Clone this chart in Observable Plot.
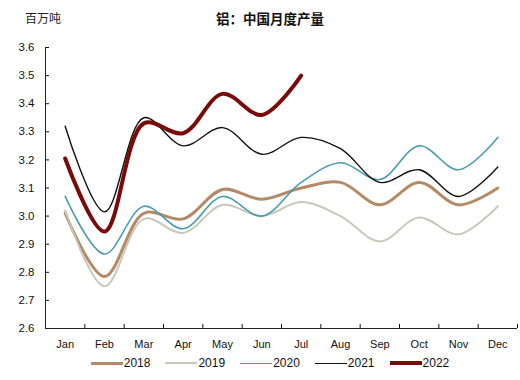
<!DOCTYPE html>
<html>
<head>
<meta charset="utf-8">
<script src="https://cdn.jsdelivr.net/npm/d3@7"></script>
<script src="https://cdn.jsdelivr.net/npm/@observablehq/plot@0.6"></script>
<style>
  body { margin: 0; background: #fff; font-family: "Liberation Sans", Arial, sans-serif; }
  #wrap { width: 520px; height: 380px; position: relative; }
  #unit { position: absolute; left: 25px; top: 10px; font-family: "Noto Sans CJK SC", sans-serif; font-size: 12px; color: #222; line-height: 16px; }
  #title { position: absolute; left: 0; width: 540px; top: 9px; text-align: center; font-family: "Noto Sans CJK SC", sans-serif; font-weight: bold; font-size: 13.5px; color: #111; line-height: 18px; }
  #chart { position: absolute; left: 0; top: 30px; }
  #legend { position: absolute; left: 0; width: 520px; top: 356px; display: flex; justify-content: center; gap: 15px; font-size: 12px; color: #111; padding-left: 20px; box-sizing: border-box; }
  .item { display: flex; align-items: center; }
  .sw { display: inline-block; width: 32px; margin-right: 1px; }
</style>
</head>
<body>
<div id="wrap">
  <div id="unit">百万吨</div>
  <div id="title">铝：中国月度产量</div>
  <div id="chart"></div>
  <div id="legend"></div>
</div>
<script>
const months = ["Jan","Feb","Mar","Apr","May","Jun","Jul","Aug","Sep","Oct","Nov","Dec"];
const years = ["2018","2019","2020","2021","2022"];
const v2018 = [3.01, 2.785, 3.01, 2.99, 3.095, 3.06, 3.10, 3.12, 3.04, 3.12, 3.04, 3.10];
const v2019 = [3.02, 2.75, 2.99, 2.94, 3.04, 3.00, 3.05, 3.00, 2.91, 2.995, 2.935, 3.035];
const v2020 = [3.07, 2.865, 3.035, 2.955, 3.07, 3.00, 3.12, 3.19, 3.13, 3.25, 3.165, 3.28];
const v2021 = [3.32, 3.015, 3.35, 3.25, 3.315, 3.22, 3.28, 3.24, 3.12, 3.165, 3.07, 3.175];
const v2022 = [3.205, 2.945, 3.33, 3.295, 3.435, 3.36, 3.50];
const yTicks = [2.6, 2.7, 2.8, 2.9, 3.0, 3.1, 3.2, 3.3, 3.4, 3.5, 3.6];

const colors = {"2018": "#b48a66", "2019": "#c9c8b9", "2020": "#4b9bb0", "2021": "#111111", "2022": "#7a0a0a"};
const widths = {"2018": 3, "2019": 2, "2020": 1.6, "2021": 1.4, "2022": 4};

const seriesVals = [v2018, v2019, v2020, v2021, v2022];
const rows = [];
years.forEach((y, i) => seriesVals[i].forEach((v, m) => rows.push({year: y, m: m + 1, v})));

const boundaries = d3.range(0.5, 13, 1);

const marks = [];
years.forEach(y => {
  marks.push(Plot.line(rows.filter(d => d.year === y), {
    x: "m", y: "v", stroke: colors[y], strokeWidth: widths[y], curve: "catmull-rom"
  }));
});

const chart = Plot.plot({
  width: 520,
  height: 322,
  marginLeft: 45,
  marginRight: 3,
  marginTop: 17,
  marginBottom: 24,
  style: {fontFamily: "Liberation Sans, Arial, sans-serif", fontSize: "11px", color: "#111"},
  x: {domain: [0.5, 12.5]},
  y: {domain: [2.6, 3.6]},
  marks: [
    Plot.axisY({ticks: yTicks, tickFormat: d3.format(".1f"), tickSize: 0, tickPadding: 11, fontSize: 11.5, label: null}),
    Plot.axisY({ticks: yTicks, tickFormat: () => "", tickSize: -4, label: null}),
    Plot.axisX({ticks: d3.range(1, 13), tickFormat: d => months[d - 1], tickSize: 0, tickPadding: 12, label: null, fontSize: 11}),
    Plot.axisX({ticks: boundaries, tickFormat: () => "", tickSize: -4, label: null}),
    Plot.ruleY([2.6], {stroke: "#222"}),
    Plot.ruleX([0.5], {stroke: "#222"}),
    ...marks
  ]
});
document.getElementById("chart").appendChild(chart);

const legend = document.getElementById("legend");
years.forEach(y => {
  const it = document.createElement("div");
  it.className = "item";
  const sw = document.createElement("span");
  sw.className = "sw";
  sw.style.borderTop = `${widths[y]}px solid ${colors[y]}`;
  const lab = document.createElement("span");
  lab.textContent = y;
  it.appendChild(sw); it.appendChild(lab);
  legend.appendChild(it);
});
</script>
</body>
</html>
